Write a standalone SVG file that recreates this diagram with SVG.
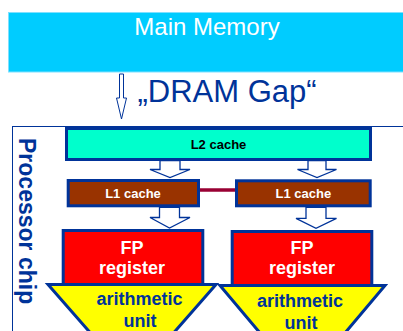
<svg xmlns="http://www.w3.org/2000/svg" width="403" height="331" viewBox="0 0 403 331">
<style>
text{font-family:"Liberation Sans",Arial,sans-serif}
.b{font-weight:bold}
.box{stroke:#003399;stroke-width:3}
.barrow{fill:#ffffff;stroke:#003399;stroke-width:1.3}
</style>
<rect width="403" height="331" fill="#ffffff"/>
<g id="main-memory">
<rect x="8.5" y="12.5" width="400" height="59.5" fill="#00CCFF" stroke="#7fe0ff" stroke-width="1"/>
<text x="207" y="35" font-size="24" fill="#ffffff" text-anchor="middle">Main Memory</text>
</g>
<g id="dram-gap">
<text x="227" y="101.5" font-size="31" fill="#003399" text-anchor="middle">„DRAM Gap“</text>
</g>
<g id="processor-chip">
<rect x="12.5" y="126.5" width="400" height="220" fill="none" stroke="#003399" stroke-width="1"/>
<text transform="translate(18.5,138) rotate(90)" font-size="23" class="b" fill="#003399">Processor chip</text>
</g>
<g id="l2-cache">
<rect class="box" x="66.5" y="128.5" width="304" height="31" fill="#00FFCC"/>
<text x="218.5" y="149" font-size="13" class="b" fill="#000000" text-anchor="middle">L2 cache</text>
</g>
<g id="l1-cache-left">
<rect class="box" x="68.2" y="180.5" width="130.3" height="25.3" fill="#993300"/>
<text x="133" y="197.5" font-size="13" class="b" fill="#ffffff" text-anchor="middle">L1 cache</text>
</g>
<g id="l1-cache-right">
<rect class="box" x="236.5" y="180.8" width="133.7" height="25" fill="#993300"/>
<text x="303.3" y="197.5" font-size="13" class="b" fill="#ffffff" text-anchor="middle">L1 cache</text>
</g>
<g id="fp-register-left">
<rect class="box" x="63.2" y="230.5" width="139.6" height="54" fill="#FF0000"/>
<text x="132" y="254" font-size="18" class="b" fill="#ffffff" text-anchor="middle">FP</text>
<text x="132" y="273.5" font-size="18" class="b" fill="#ffffff" text-anchor="middle">register</text>
</g>
<g id="fp-register-right">
<rect class="box" x="232.2" y="231.5" width="139.6" height="54" fill="#FF0000"/>
<text x="302" y="254" font-size="18" class="b" fill="#ffffff" text-anchor="middle">FP</text>
<text x="302" y="274.3" font-size="18" class="b" fill="#ffffff" text-anchor="middle">register</text>
</g>
<g id="arithmetic-unit-left">
<polygon class="box" points="48,284.5 216,284.5 163,345 101,345" fill="#FFFF00"/>
<text x="139.5" y="305" font-size="18" class="b" fill="#003399" text-anchor="middle">arithmetic</text>
<text x="140" y="326.5" font-size="18" class="b" fill="#003399" text-anchor="middle">unit</text>
</g>
<g id="arithmetic-unit-right">
<polygon class="box" points="220,285.5 385,285.5 334,346 271,346" fill="#FFFF00"/>
<text x="300" y="306.5" font-size="18" class="b" fill="#003399" text-anchor="middle">arithmetic</text>
<text x="301" y="329" font-size="18" class="b" fill="#003399" text-anchor="middle">unit</text>
</g>
<g id="connectors">
<polygon points="119.5,74 123.5,74 123.5,98 126.5,98 121.5,119 116.5,98 119.5,98" fill="#ffffff" stroke="#003399" stroke-width="1"/>
<polygon class="barrow" points="160,160.5 180,160.5 180,169.5 190,169.5 170,177.5 150,169.5 160,169.5"/>
<polygon class="barrow" points="308,160.5 326,160.5 326,169.5 336.5,169.5 317,177.5 297.5,169.5 308,169.5"/>
<polygon class="barrow" points="159.5,207.3 179.5,207.3 179.5,217.5 190,217.5 169.5,228 150,217.5 159.5,217.5"/>
<polygon class="barrow" points="306,207.3 326,207.3 326,218.3 336.5,218.3 316,228.3 296,218.3 306,218.3"/>
<line x1="200" y1="190" x2="235" y2="190" stroke="#990033" stroke-width="3.5"/>
</g>
</svg>
